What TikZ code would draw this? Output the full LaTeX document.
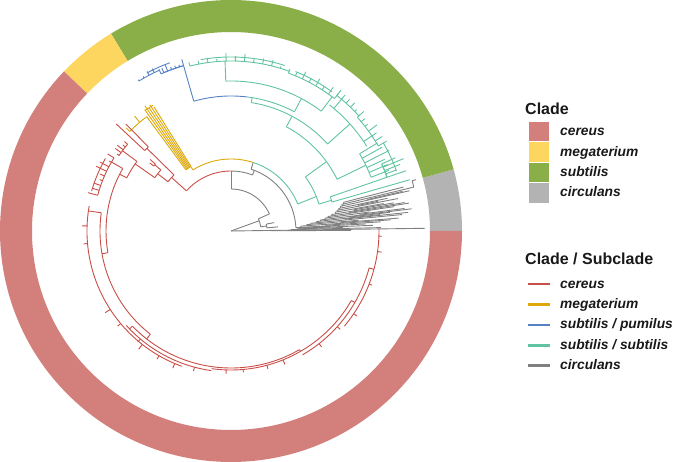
\documentclass[tikz,border=0pt]{standalone}
\usepackage{fontspec}
\newfontfamily\legendfont{Liberation Sans}
\usetikzlibrary{positioning}

\definecolor{ringCereus}{RGB}{211,127,124}
\definecolor{ringMega}{RGB}{253,214,96}
\definecolor{ringSubtilis}{RGB}{138,174,72}
\definecolor{ringCirculans}{RGB}{179,179,179}
\definecolor{lineCereus}{RGB}{200,78,72}
\definecolor{lineMega}{RGB}{221,168,10}
\definecolor{linePumilus}{RGB}{84,130,196}
\definecolor{lineSubtilis}{RGB}{96,196,160}
\definecolor{lineCirculans}{RGB}{128,128,128}

% radial branch: angle, from radius, to radius
\newcommand{\tbranch}[3]{\draw (#1:#2pt) -- (#1:#3pt);}
% arc: radius, start angle, end angle
\newcommand{\tarc}[3]{\draw (#2:#1pt) arc[start angle=#2, end angle=#3, radius=#1pt];}
% arc with a fan of tips: from angle, to angle, count, radius, shortest, longest
\newcommand{\tipfan}[6]{%
    \draw (#1:#4pt) arc[start angle=#1, end angle=#2, radius=#4pt];
    \foreach \k in {0,...,#3}{%
        \pgfmathsetmacro\tang{#1+(#2-#1)*\k/#3}
        \pgfmathsetmacro\tend{#5+rnd*(#6-#5)}
        \draw (\tang:#4pt) -- (\tang:\tend pt);
    }}
% ring segment: colour, start angle, end angle
\newcommand{\ringpart}[3]{\fill[#1] (#2:231pt) arc[start angle=#2, end angle=#3, radius=231pt] -- (#3:199pt) arc[start angle=#3, end angle=#2, radius=199pt] -- cycle;}

\begin{document}
\begin{tikzpicture}[x=1pt,y=1pt]

    \tikzstyle{treeLine}=[line width=0.9pt, line join=round]
    \tikzstyle{cereusLine}=[treeLine, draw=lineCereus]
    \tikzstyle{megaLine}=[treeLine, draw=lineMega]
    \tikzstyle{pumilusLine}=[treeLine, draw=linePumilus]
    \tikzstyle{subtilisLine}=[treeLine, draw=lineSubtilis]
    \tikzstyle{circulansLine}=[treeLine, draw=lineCirculans]
    \tikzstyle{legendTitle}=[font=\legendfont\fontsize{16}{19}\selectfont\bfseries, anchor=base west, inner sep=0pt, text=black!90]
    \tikzstyle{legendLabel}=[font=\legendfont\fontsize{13.8}{16}\selectfont\bfseries\itshape, anchor=base west, inner sep=0pt, text=black!90]
    \tikzstyle{legendBox}=[rectangle, minimum size=19.5pt, inner sep=0pt]
    \tikzstyle{legendKey}=[line width=2.6pt]

    \useasboundingbox (-231,-231) rectangle (444,231);
    \pgfmathsetseed{17}

    % Outer ring
    \ringpart{ringCirculans}{0}{15.5}
    \ringpart{ringSubtilis}{15.5}{121.3}
    \ringpart{ringMega}{121.3}{136.3}
    \ringpart{ringCereus}{136.3}{360}

    % circulans
    \begin{scope}[circulansLine]
        \tbranch{0.8}{0}{194}
        \tbranch{20}{0}{30}
        \tarc{30}{8}{24}
        \tbranch{8}{30}{36}
        \tarc{36}{5}{11}
        \tbranch{5}{36}{47}
        \tbranch{11}{36}{44}
        \tbranch{24}{30}{42}
        \tarc{42}{24}{90}
        \tbranch{90}{42}{60}
        \tarc{60}{69}{90}
        \tbranch{69}{60}{65}
        \tarc{65}{3}{72}
        \tbranch{72}{65}{72}
        \tbranch{3}{65}{70}
        \foreach \ta/\ra/\re/\tb/\rb in {3.0/70/135/4.0/76, 4.0/76/160/4.8/80, 4.8/80/128/5.5/86,
                5.5/86/172/6.3/90, 6.3/90/150/7.0/95, 7.0/95/182/7.8/98, 7.8/98/140/8.5/102,
                8.5/102/165/9.3/106, 9.3/106/176/10.2/108, 10.2/108/155/11.0/110,
                11.0/110/170/11.8/112, 11.8/112/160/12.7/114, 12.7/114/183/13.5/116,
                13.5/116/188/14.3/119}{
            \tbranch{\ta}{\ra}{\re}
            \tarc{\ra}{\ta}{\tb}
            \tbranch{\tb}{\ra}{\rb}
        }
        \tbranch{14.3}{119}{178}
        \tarc{188}{13.5}{15.5}
        \tbranch{15.5}{188}{192}
        \foreach \ta/\tb/\ra/\re in {3.0/3.5/95/150, 4.0/4.4/110/168, 5.5/6.0/115/178, 6.3/6.7/120/160,
                7.0/7.4/130/175, 8.5/8.9/120/180, 9.3/9.8/125/165, 11.0/11.4/130/150, 12.7/13.0/140/176}{
            \tarc{\ra}{\ta}{\tb}
            \tbranch{\tb}{\ra}{\re}
        }
        \foreach \ta/\ra/\re in {0.3/40/120, 1.3/60/150, 1.8/66/112, 2.3/68/142, 2.7/69/100}{
            \tbranch{\ta}{\ra}{\re}
        }
    \end{scope}

    % subtilis / subtilis
    \begin{scope}[subtilisLine]
        \tarc{72}{22}{72}
        \tbranch{22}{72}{92}
        \tarc{92}{17}{36}
        \tbranch{17}{92}{105}
        \tarc{105}{16}{19}
        \tbranch{16}{105}{186}
        \tbranch{19}{105}{165}
        \tarc{165}{19}{24}
        \tipfan{19}{24}{4}{165}{170}{188}
        \tbranch{36}{92}{118}
        \tarc{118}{26}{62}
        \tbranch{26}{118}{150}
        \tipfan{21}{31}{5}{150}{168}{186}
        \tarc{176}{20}{30}
        \tbranch{62}{118}{130}
        \tarc{130}{42}{81}
        \tbranch{42}{130}{160}
        \tarc{160}{32}{52}
        \tbranch{34}{160}{170}
        \tipfan{30}{42}{6}{170}{172}{182}
        \tbranch{50}{160}{172}
        \tipfan{42}{52}{5}{172}{174}{180}
        \tbranch{81}{130}{135}
        \tarc{135}{62}{83}
        \tbranch{62}{135}{150}
        \tarc{150}{53}{92}
        \tbranch{53}{150}{168}
        \tipfan{52}{70}{7}{168}{171}{177}
        \tarc{172}{54}{68}
        \tbranch{92}{150}{170}
        \tipfan{70}{104}{11}{170}{172}{178}
        \tarc{174}{72}{100}
    \end{scope}

    % subtilis / pumilus
    \begin{scope}[pumilusLine]
        \tarc{135}{83}{106}
        \tbranch{106}{135}{172}
        \tarc{172}{106}{114}
        \tipfan{106}{113}{5}{172}{174}{179}
        \tbranch{114}{172}{176}
        \tipfan{114}{121.5}{4}{176}{177}{181}
        \tarc{179}{110}{118}
    \end{scope}

    % megaterium
    \begin{scope}[megaLine]
        \tarc{72}{72}{122}
        \tbranch{122}{72}{76}
        \tarc{76}{121.8}{126.4}
        \foreach \ta/\re in {121.8/146, 122.7/150, 123.6/148, 124.5/152, 125.4/149}{
            \tbranch{\ta}{76}{\re}
        }
        \tarc{148}{121.8}{125.4}
        \tbranch{126.4}{76}{142}
        \tarc{142}{126.4}{135.5}
        \tbranch{135.5}{142}{147}
        \tbranch{130}{142}{150}
    \end{scope}

    % cereus
    \begin{scope}[cereusLine]
        \tarc{60}{90}{138}
        \tbranch{138}{60}{80}
        \tarc{80}{135.5}{142}
        \tbranch{135.5}{80}{118}
        \tarc{118}{134.5}{137}
        \tbranch{134.5}{118}{150}
        \tbranch{137}{118}{157}
        \tbranch{142}{80}{93}
        \tarc{93}{139}{145}
        \tbranch{139}{93}{101}
        \tarc{101}{138.5}{140}
        \tbranch{138.5}{101}{108}
        \tbranch{140}{101}{106}
        \tbranch{145}{93}{117}
        \tarc{117}{143.5}{153}
        \tbranch{143.5}{117}{135}
        \tipfan{140}{146}{4}{135}{137}{143}
        \tbranch{153}{117}{125}
        \tarc{125}{150}{190}
        \tbranch{150}{125}{138}
        \tipfan{148}{165}{8}{138}{140}{150}
        \tarc{145}{150}{164}
        \tbranch{190}{125}{131}
        \tarc{131}{172}{232}
        \tbranch{172}{131}{144}
        \tarc{144}{170}{250}
        \foreach \ta/\re in {178/149, 185/148, 213/150, 220/148, 232/150, 240/148, 247/149}{
            \tbranch{\ta}{144}{\re}
        }
        \tbranch{232}{131}{137}
        \tarc{137}{224}{300}
        \tbranch{224}{137}{141}
        \tarc{141}{222}{262}
        \foreach \ta/\re in {230/145, 255/145}{
            \tbranch{\ta}{141}{\re}
        }
        \tbranch{300}{137}{139}
        \tarc{139}{262}{330}
        \foreach \ta/\re in {268/143, 275/142, 285/143, 292/144}{
            \tbranch{\ta}{139}{\re}
        }
        \tbranch{330}{139}{143}
        \tarc{143}{300}{345}
        \tbranch{345}{143}{148}
        \tarc{148}{320}{360.8}
        \foreach \ta/\re in {308/147, 318/147}{
            \tbranch{\ta}{143}{\re}
        }
        \foreach \ta/\re in {326/152, 339/151, 352/152, 358/151}{
            \tbranch{\ta}{148}{\re}
        }
    \end{scope}

    % Legend: Clade
    \node at (294,116) [legendTitle] (cladeTitle) {Clade};
    \foreach \nm/\col/\yy in {cereus/ringCereus/99.3, megaterium/ringMega/78.9,
            subtilis/ringSubtilis/58.5, circulans/ringCirculans/38.1}{
        \node at (308,\yy) [legendBox, fill=\col] (box\nm) {};
        \node at (329,\yy-4) [legendLabel] (lab\nm) {\nm};
    }

    % Legend: Clade / Subclade
    \node at (294,-34) [legendTitle] (subTitle) {Clade / Subclade};
    \foreach \nm/\col/\yy/\txt in {a/lineCereus/-53.2/{cereus}, b/lineMega/-73.6/{megaterium},
            c/linePumilus/-94/{subtilis / pumilus}, d/lineSubtilis/-114.4/{subtilis / subtilis},
            e/lineCirculans/-134.8/{circulans}}{
        \draw[legendKey, \col] (297,\yy) -- (319,\yy);
        \node at (329,\yy-4) [legendLabel] (key\nm) {\txt};
    }

\end{tikzpicture}
\end{document}
